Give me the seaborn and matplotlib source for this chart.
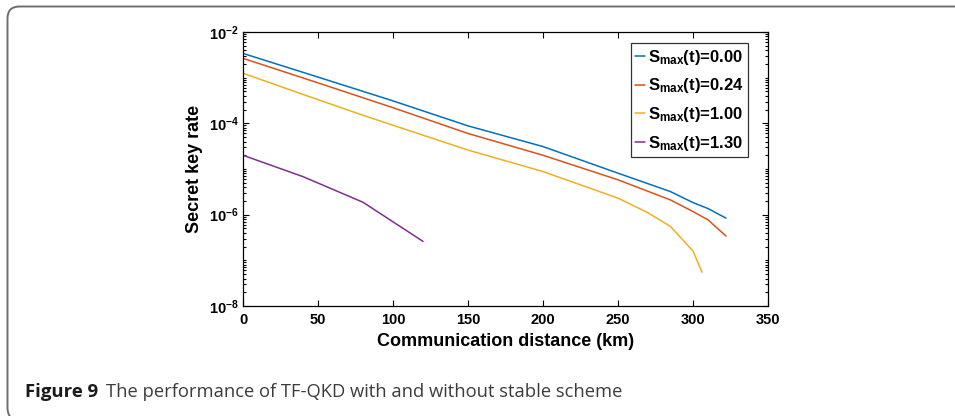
import matplotlib
matplotlib.use("Agg")
import matplotlib.pyplot as plt
import numpy as np
import pandas as pd
import seaborn as sns
from matplotlib.patches import FancyBboxPatch
from matplotlib.transforms import IdentityTransform
from matplotlib.ticker import LogLocator, NullFormatter

# données
dist_s000 = [0, 50, 100, 150, 200, 250, 285, 300, 310, 322]
rate_s000 = [3.4e-3, 1.03e-3, 3.1e-4, 8.8e-5, 3.1e-5, 8.1e-6, 3.2e-6, 1.84e-6, 1.36e-6, 8.4e-7]

dist_s024 = [0, 50, 100, 150, 200, 250, 285, 300, 310, 322]
rate_s024 = [2.65e-3, 7.7e-4, 2.2e-4, 6.0e-5, 2.0e-5, 5.8e-6, 2.1e-6, 1.17e-6, 7.7e-7, 3.4e-7]

dist_s100 = [0, 40, 80, 150, 200, 250, 270, 285, 300, 306]
rate_s100 = [1.25e-3, 4.3e-4, 1.5e-4, 2.6e-5, 8.8e-6, 2.3e-6, 1.1e-6, 5.5e-7, 1.6e-7, 5.5e-8]

dist_s130 = [0, 40, 80, 120]
rate_s130 = [2.0e-5, 6.8e-6, 1.87e-6, 2.6e-7]

labels = [r"$\mathbf{S_{max}}$(t)=0.00", r"$\mathbf{S_{max}}$(t)=0.24",
          r"$\mathbf{S_{max}}$(t)=1.00", r"$\mathbf{S_{max}}$(t)=1.30"]
colors = ["#0072BD", "#D95319", "#EDB120", "#7E2F8E"]

x_ticks = [0, 50, 100, 150, 200, 250, 300, 350]
y_ticks = [1e-8, 1e-6, 1e-4, 1e-2]
y_ticklabels = [r"$\mathbf{10^{-8}}$", r"$\mathbf{10^{-6}}$", r"$\mathbf{10^{-4}}$", r"$\mathbf{10^{-2}}$"]

frames = []
for d, r, lab in zip([dist_s000, dist_s024, dist_s100, dist_s130],
                     [rate_s000, rate_s024, rate_s100, rate_s130], labels):
    frames.append(pd.DataFrame({"distance": d, "rate": r, "serie": lab}))
df = pd.concat(frames, ignore_index=True)

sns.set_style("ticks")
plt.rcParams["font.family"] = ["Liberation Sans", "DejaVu Sans"]
plt.rcParams["mathtext.fontset"] = "custom"
plt.rcParams["mathtext.rm"] = "Liberation Sans:bold"
plt.rcParams["mathtext.bf"] = "Liberation Sans:bold"
plt.rcParams["mathtext.it"] = "Liberation Sans:italic"
for k in ["text.color", "axes.labelcolor", "xtick.color", "ytick.color", "axes.edgecolor"]:
    plt.rcParams[k] = "black"

fig = plt.figure(figsize=(9.55, 4.16), dpi=100)
ax = fig.add_axes([243 / 955, 1 - 306 / 416, 525 / 955, 274 / 416])

sns.lineplot(data=df, x="distance", y="rate", hue="serie", palette=colors,
             sort=False, estimator=None, linewidth=1.1, ax=ax)

ax.set_yscale("log")
ax.set_xlim(0, 350)
ax.set_ylim(1e-8, 1e-2)
ax.set_xticks(x_ticks)
ax.set_xticklabels([str(v) for v in x_ticks], fontweight="bold", fontsize=10.5)
ax.set_yticks(y_ticks)
ax.set_yticklabels(y_ticklabels, fontsize=10.5)
ax.yaxis.set_minor_locator(LogLocator(base=10, subs=np.arange(1, 10), numticks=20))
ax.yaxis.set_minor_formatter(NullFormatter())
ax.tick_params(which="both", direction="in", top=True, right=True, width=0.8, color="black")
ax.tick_params(which="major", length=4.5, pad=3)
ax.tick_params(axis="x", which="major", pad=5)
ax.tick_params(which="minor", length=2.5)
for s in ax.spines.values():
    s.set_linewidth(0.9)
    s.set_color("black")

ax.set_xlabel("Communication distance (km)", fontsize=13, fontweight="bold", labelpad=4)
ax.set_ylabel("Secret key rate", fontsize=13, fontweight="bold", labelpad=4)

handles, labs = ax.get_legend_handles_labels()
leg = ax.legend(handles, labs, loc="upper right", bbox_to_anchor=(748 / 955, 1 - 43 / 416),
                bbox_transform=fig.transFigure, borderaxespad=0, frameon=True, fancybox=False,
                handlelength=0.6, handletextpad=0.15, labelspacing=0.58, borderpad=0.28,
                prop={"weight": "bold", "size": 12})
leg.get_frame().set_edgecolor("black")
leg.get_frame().set_linewidth(0.9)

# cadre arrondi et légende de la figure
cadre = FancyBboxPatch((7.5, -4), 1100, 413.5, boxstyle="round,pad=0,rounding_size=12",
                       transform=IdentityTransform(), fill=False, edgecolor="#6e6e6e", linewidth=1.4)
fig.add_artist(cadre)

t1 = fig.text(25 / 955, 1 - 397 / 416, "Figure 9", fontsize=13.3, fontweight="bold",
              family=["Open Sans", "DejaVu Sans"], color="#1a1a1a", va="baseline")
ax.annotate("The performance of TF-QKD with and without stable scheme", xy=(1, 0),
            xycoords=t1, xytext=(8, 0), textcoords="offset pixels", fontsize=13.2,
            family=["Open Sans", "DejaVu Sans"], color="#3c3c3c", va="bottom",
            annotation_clip=False)

fig.savefig("out.png", dpi=100)
